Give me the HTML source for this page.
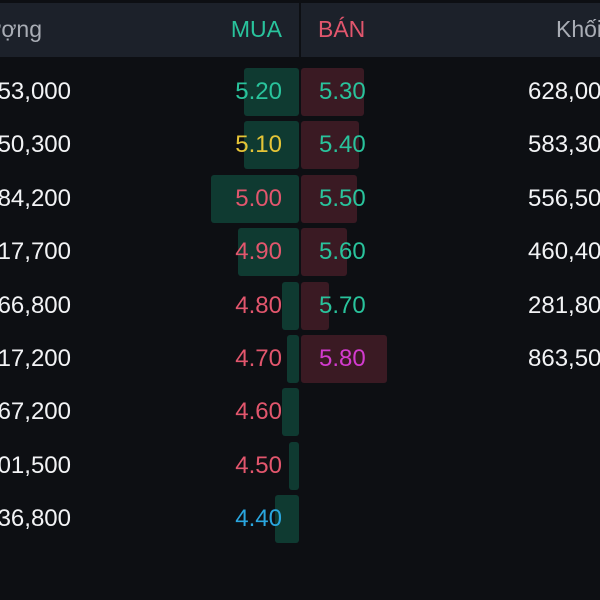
<!DOCTYPE html>
<html><head><meta charset="utf-8"><style>
html,body{margin:0;width:600px;height:600px;overflow:hidden}
body{background:#0d0f13;font-family:"Liberation Sans","DejaVu Sans",sans-serif}
#frame{position:absolute;left:0;top:0;width:600px;height:600px;overflow:hidden}
#top{position:absolute;left:0;top:0;width:600px;height:3px;background:#0d0f13}
#hdr{position:absolute;left:0;top:3px;width:600px;height:54px;background:#1c212a}
.h{position:absolute;top:17px;font-size:23px;line-height:24px;white-space:nowrap}
#div{position:absolute;left:299px;top:3px;width:2px;height:54px;background:#0d0f13}
.bar{position:absolute;height:48px;border-radius:3px}
.t{position:absolute;font-size:24px;line-height:26px;white-space:nowrap}
</style></head><body>
<div id="frame">
<div id="top"></div>
<div id="hdr"></div>
<div id="div"></div>
<div class="h" style="right:558px;color:#a9adb5">Khối lượng</div>
<div class="h" style="right:318px;color:#29c39c">MUA</div>
<div class="h" style="left:318px;color:#e2566d">BÁN</div>
<div class="h" style="left:556px;color:#a9adb5">Khối lượng</div>
<div id="book"></div>
</div>
<script>
const buyPrices=["5.20","5.10","5.00","4.90","4.80","4.70","4.60","4.50","4.40"];
const buyVolumes=[553000,550300,884200,617700,166800,117200,167200,101500,236800];
const buyColors=["#29c39c","#e5c437","#e2566d","#e2566d","#e2566d","#e2566d","#e2566d","#e2566d","#2aa6df"];
const sellPrices=["5.30","5.40","5.50","5.60","5.70","5.80"];
const sellVolumes=[628000,583300,556500,460400,281800,863500];
const sellColors=["#29c39c","#29c39c","#29c39c","#29c39c","#29c39c","#d33bcf"];
const book=document.getElementById('book');
const scaleBuy=v=>v/884200*88;
const scaleSell=v=>v/10000;
const rowY=i=>92+i*53.4;
const fmt=v=>v.toLocaleString('en-US');
function add(cls,style,text,name){
  const el=document.createElement('div');
  el.className=cls;
  el.style.cssText=style;
  if(text!==undefined)el.textContent=text;
  
  
  book.appendChild(el);
}
buyPrices.forEach((p,i)=>{
  const y=rowY(i), w=scaleBuy(buyVolumes[i]);
  add('bar',`left:${299-w}px;width:${w}px;top:${y-24}px;background:#0f3a31`,undefined,'buy-bar-'+p);
  add('t',`right:${600-282}px;top:${y-13}px;color:${buyColors[i]}`,p,'buy-price-'+p);
  add('t',`right:${600-71}px;top:${y-13}px;color:#f2f3f5`,fmt(buyVolumes[i]),'buy-volume-'+p);
});
sellPrices.forEach((p,i)=>{
  const y=rowY(i), w=scaleSell(sellVolumes[i]);
  add('bar',`left:301px;width:${w}px;top:${y-24}px;background:#3a1a23`,undefined,'sell-bar-'+p);
  add('t',`left:319px;top:${y-13}px;color:${sellColors[i]}`,p,'sell-price-'+p);
  add('t',`left:528px;top:${y-13}px;color:#f2f3f5`,fmt(sellVolumes[i]),'sell-volume-'+p);
});
</script>
</body></html>
